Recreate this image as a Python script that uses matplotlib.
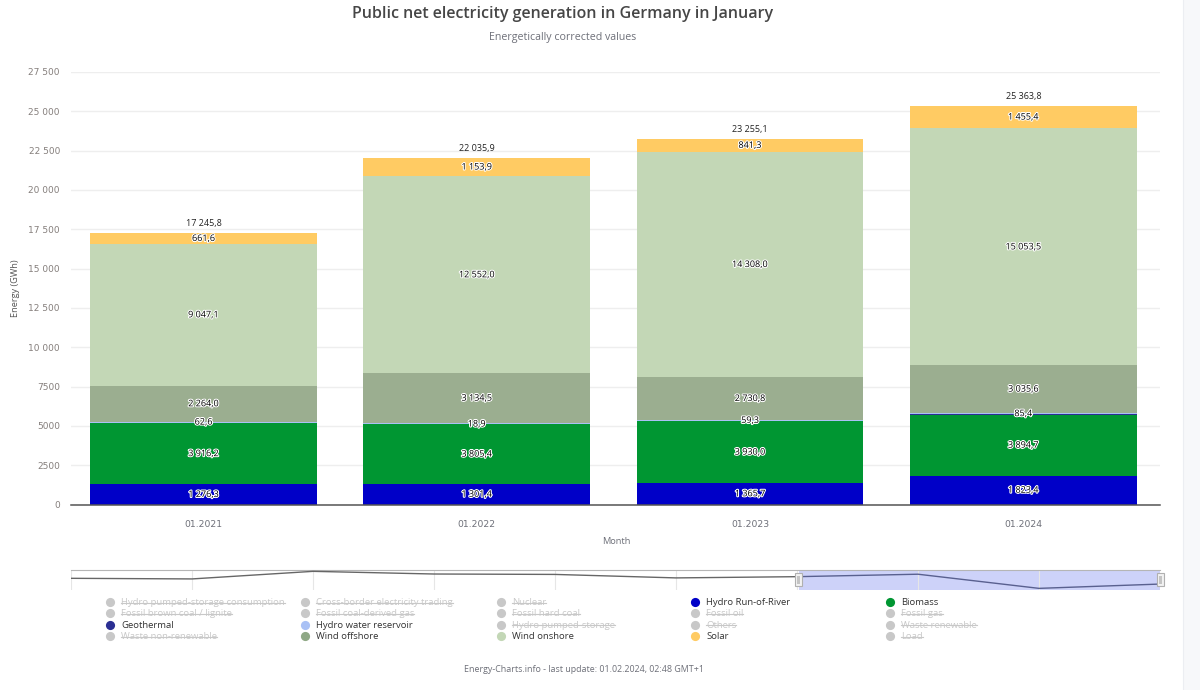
import matplotlib
matplotlib.use('Agg')
import matplotlib.pyplot as plt
import matplotlib.patheffects as pe
from matplotlib.patches import Rectangle
import numpy as np

plt.rcParams['font.family'] = ['Open Sans', 'DejaVu Sans']

months = ['01.2021', '01.2022', '01.2023', '01.2024']
hydro_ror = [1276.3, 1301.4, 1365.7, 1823.4]
biomass = [3916.2, 3805.4, 3930.0, 3894.7]
geothermal = [18.0, 18.9, 20.0, 15.8]
hydro_res = [62.6, 69.8, 59.3, 85.4]
wind_off = [2264.0, 3134.5, 2730.8, 3035.6]
wind_on = [9047.1, 12552.0, 14308.0, 15053.5]
solar = [661.6, 1153.9, 841.3, 1455.4]
totals = [17245.8, 22035.9, 23255.1, 25363.8]

y_ticks = [0, 2500, 5000, 7500, 10000, 12500, 15000, 17500, 20000, 22500, 25000, 27500]
y_labels = ['0', '2500', '5000', '7500', '10 000', '12 500', '15 000', '17 500',
            '20 000', '22 500', '25 000', '27 500']

# overview strip below the chart, rough reading of the line
nav_x = list(range(10))
nav_y = [57, 54, 91, 78, 76, 59, 65, 77, 8, 29]

legend_names = [
    ['Hydro pumped-storage consumption', 'Fossil brown coal / lignite', 'Geothermal', 'Waste non-renewable'],
    ['Cross-border electricity trading', 'Fossil coal-derived gas', 'Hydro water reservoir', 'Wind offshore'],
    ['Nuclear', 'Fossil hard coal', 'Hydro pumped-storage', 'Wind onshore'],
    ['Hydro Run-of-River', 'Fossil oil', 'Others', 'Solar'],
    ['Biomass', 'Fossil gas', 'Waste renewable', 'Load'],
]
legend_colors = {'Geothermal': '#2b2f93', 'Hydro water reservoir': '#a9c1f5', 'Wind offshore': '#8fa885',
                 'Wind onshore': '#c3d7b6', 'Hydro Run-of-River': '#0000c8', 'Solar': '#ffcb63',
                 'Biomass': '#009632'}

W, H = 1200, 690


def fmt(v):
    s = f'{v:,.1f}'
    return s.replace(',', ' ').replace('.', ',')


fig = plt.figure(figsize=(12, 6.9), dpi=100, facecolor='white')

# page coordinates in pixels for everything outside the axes
bg = fig.add_axes([0, 0, 1, 1])
bg.set_xlim(0, W)
bg.set_ylim(H, 0)
bg.axis('off')
bg.add_patch(Rectangle((1183, 0), 17, H, color='#f7f8fa', lw=0))
bg.plot([1183, 1183], [0, H], color='#eceef2', lw=0.8)

ax = fig.add_axes([71 / W, 1 - 504.5 / H, 1089 / W, 432.5 / H])
ax.set_xlim(-0.485, 3.5)
ax.set_ylim(0, 27500)
for s in ['top', 'right', 'left']:
    ax.spines[s].set_visible(False)
ax.spines['bottom'].set_color('#555555')
ax.spines['bottom'].set_linewidth(1.1)
ax.set_yticks(y_ticks)
ax.set_yticklabels(y_labels, fontsize=6.5, color='#857f7c', family='DejaVu Sans')
ax.set_xticks(range(4))
ax.set_xticklabels(months, fontsize=6.7, color='#6e7079', family='DejaVu Sans')
ax.tick_params(length=0)
ax.tick_params(axis='y', pad=8)
ax.tick_params(axis='x', pad=11)
ax.grid(axis='y', color='#eeeeee', lw=1)
ax.set_axisbelow(True)

series = [
    (hydro_ror, '#0000c8', [True, True, True, True]),
    (biomass, '#009632', [True, True, True, True]),
    (geothermal, '#2b2f93', [False, True, False, False]),
    (hydro_res, '#a9c1f5', [True, False, True, True]),
    (wind_off, '#9bae90', [True, True, True, True]),
    (wind_on, '#c3d7b6', [True, True, True, True]),
    (solar, '#ffcb63', [True, True, True, True]),
]
halo = [pe.withStroke(linewidth=1.5, foreground='white')]
x = np.arange(4)
bottom = np.zeros(4)
for vals, col, show in series:
    vals = np.array(vals)
    ax.bar(x, vals, 0.83, bottom=bottom, color=col, lw=0, zorder=2)
    for i in range(4):
        if show[i]:
            ax.text(x[i], bottom[i] + vals[i] / 2, fmt(vals[i]), ha='center', va='center',
                    fontsize=6.5, color='black', zorder=5, path_effects=halo, fontweight='medium')
    bottom = bottom + vals
for i in range(4):
    ax.text(x[i], bottom[i] + 320, fmt(totals[i]), ha='center', va='bottom', fontsize=6.5,
            color='#222222', zorder=5, fontweight='medium')

bg.text(563, 13.5, 'Public net electricity generation in Germany in January', ha='center', va='center',
        fontsize=11.5, color='#464646', fontweight='semibold')
bg.text(563, 37.5, 'Energetically corrected values', ha='center', va='center', fontsize=7.65, color='#6e7079')
bg.text(16, 288, 'Energy (GWh)', rotation=90, ha='center', va='center', fontsize=6.6, color='#555555',
        fontweight='medium')
bg.text(616, 541, 'Month', ha='center', va='center', fontsize=6.7, color='#6e7079')
bg.text(584, 669, 'Energy-Charts.info - last update: 01.02.2024, 02:48 GMT+1', ha='center', va='center',
        fontsize=6.4, color='#6e7079', fontweight='medium')

# overview strip
nav = fig.add_axes([71 / W, 1 - 590 / H, 1089 / W, 20.5 / H])
nav.set_xlim(0, 9)
nav.set_ylim(0, 100)
for s in ['left', 'right', 'bottom']:
    nav.spines[s].set_visible(False)
nav.spines['top'].set_color('#b5b5b5')
nav.set_xticks([])
nav.set_yticks([])
nav.patch.set_alpha(0)
for k in nav_x:
    nav.axvline(k, color='#e6e6e6', lw=0.8, zorder=2)
nav.axvspan(6.02, 9, color='#cdd2f9', lw=0, zorder=1)
nav.plot(nav_x[:7], nav_y[:7], color='#666666', lw=1, zorder=3)
nav.plot(nav_x[6:], nav_y[6:], color='#59608f', lw=1, zorder=3)

# legend and slider handles go on top of the strip
top = fig.add_axes([0, 0, 1, 1])
top.set_xlim(0, W)
top.set_ylim(H, 0)
top.axis('off')
top.patch.set_alpha(0)
for hx in [798.5, 1160]:
    top.add_patch(Rectangle((hx - 3.5, 573), 7, 13, fc='#f2f2f2', ec='#b0b0b0', lw=0.8, zorder=6))
    top.add_patch(Rectangle((hx - 1.5, 575.5), 3, 8, fc='#c4c4c4', lw=0, zorder=7))

# legend, switched off entries are gray and struck through
col_x = [110, 305, 501, 695, 890]
row_y = [602, 613, 624.5, 636]
fig.canvas.draw()
rend = fig.canvas.get_renderer()
for cx, names in zip(col_x, legend_names):
    for ry, name in zip(row_y, names):
        on = name in legend_colors
        top.plot(cx, ry, 'o', ms=6.6, mew=0, color=legend_colors.get(name, '#c8c8c8'))
        t = top.text(cx + 11, ry + 0.5, name, ha='left', va='center', fontsize=6.8,
                     color='#333333' if on else '#c8c8c8', fontweight='medium')
        if not on:
            bb = t.get_window_extent(rend)
            top.plot([bb.x0, bb.x1], [ry + 0.5, ry + 0.5], color='#c8c8c8', lw=0.8)

top.set_xlim(0, W)
top.set_ylim(H, 0)
fig.savefig('out.png', dpi=100)
